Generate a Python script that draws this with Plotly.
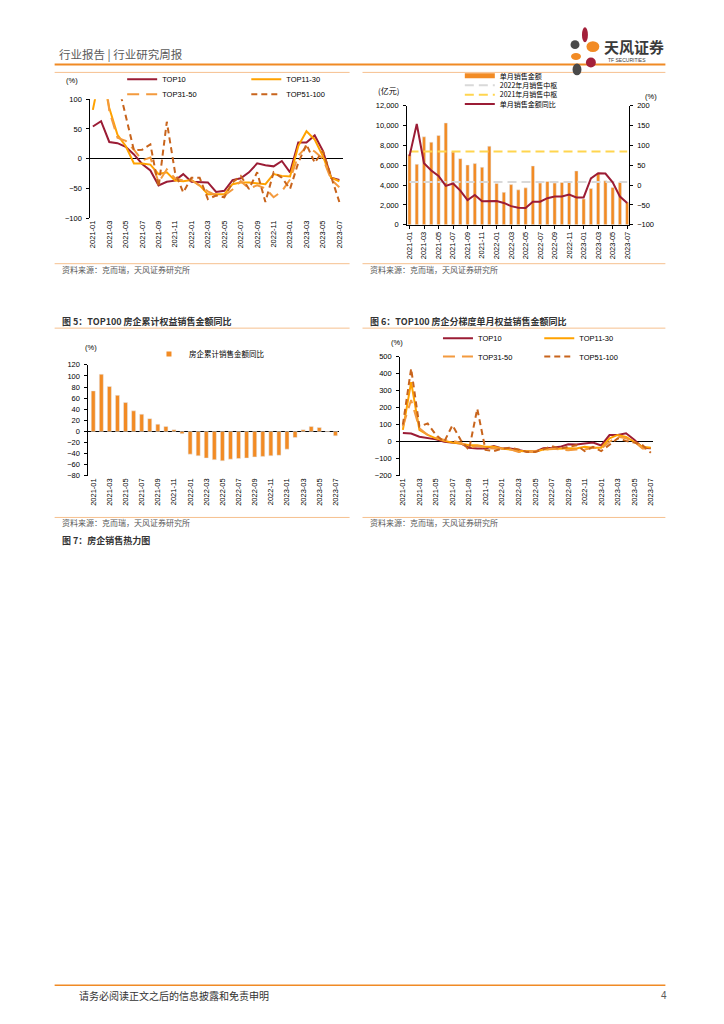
import plotly.graph_objects as go

# ---------------- data ----------------
months = ["2021-01", "2021-02", "2021-03", "2021-04", "2021-05", "2021-06", "2021-07", "2021-08",
          "2021-09", "2021-10", "2021-11", "2021-12", "2022-01", "2022-02", "2022-03", "2022-04",
          "2022-05", "2022-06", "2022-07", "2022-08", "2022-09", "2022-10", "2022-11", "2022-12",
          "2023-01", "2023-02", "2023-03", "2023-04", "2023-05", "2023-06", "2023-07"]
tick_months = ["2021-01", "2021-03", "2021-05", "2021-07", "2021-09", "2021-11", "2022-01", "2022-03",
               "2022-05", "2022-07", "2022-09", "2022-11", "2023-01", "2023-03", "2023-05", "2023-07"]

tiers = ["TOP10", "TOP11-30", "TOP31-50", "TOP51-100"]

# chart 1: single-month YoY by tier (%)
c1_top10 = [54, 63, 28, 26, 20, 7, -9, -20, -45, -39, -37, -26, -39, -40, -40, -56, -54, -36, -33, -23,
            -8, -11, -13, -4, -23, 27, 27, 39, 13, -32, -36]
c1_top11_30 = [82, 150, 85, 40, 21, -8, -8, -10, -26, -23, -37, -38, -36, -45, -60, -60, -60, -43, -40, -40,
               -41, -43, -26, -29, -30, 21, 46, 32, 4, -32, -38]
c1_top31_50 = [110, 200, 80, 35, 30, 15, -3, 2, -40, -18, -33, -37, -36, -45, -55, -62, -62, -52, -38, -50,
               -45, -50, -65, -55, -35, 5, 20, 12, 0, -35, -48]
c1_top51_100 = [150, 200, 160, 130, 72, 14, 15, 24, -48, 62, -23, -57, -32, -32, -68, -62, -65, -40, -29, -51,
                -23, -73, -23, -32, -51, -7, 24, -7, 13, -29, -73]

# chart 2: monthly sales (100m CNY) and YoY (%)
c2_sales = [7100, 6100, 8870, 8330, 9000, 10270, 7330, 6670, 6030, 6170, 5800, 7930, 4170, 3270, 4050, 3520,
            3720, 5930, 4200, 4370, 4200, 4270, 4370, 5430, 2600, 3650, 5200, 4430, 3770, 4270, 2270]
c2_yoy = [73, 154, 55, 37, 23, -2, 4, -14, -38, -25, -41, -40, -40, -45, -53, -57, -58, -42, -42, -33,
          -29, -29, -24, -31, -31, 17, 30, 29, 7, -29, -45]
median_2022 = 4300
median_2021 = 7400

# chart 3: cumulative equity sales YoY (%)
c3_cum = [73, 103, 81, 65, 52, 37, 31, 23, 13, 9, 3, -4, -41, -44, -48, -51, -53, -50, -49, -48,
          -46, -45, -44, -43, -32, -11, 3, 9, 7, -1, -8]

# chart 4: single-month equity sales YoY by tier (%)
c4_top10 = [52, 48, 29, 20, 14, 0, -6, -10, -35, -40, -40, -25, -40, -40, -48, -58, -58, -38, -35, -30,
            -15, -16, -10, -5, -22, 39, 40, 50, 12, -35, -38]
c4_top11_30 = [70, 350, 70, 40, 20, 5, -5, -10, -20, -20, -30, -30, -40, -45, -55, -58, -58, -45, -42, -40,
               -38, -40, -30, -35, -35, 20, 40, 28, 0, -30, -35]
c4_top31_50 = [90, 245, 80, 40, 25, 10, 5, -5, -35, -25, -35, -40, -40, -45, -60, -60, -55, -50, -40, -45,
               -50, -45, -45, -35, -40, 0, 30, 20, 0, -40, -40]
c4_top51_100 = [100, 430, 90, 107, 40, 0, 97, 10, -48, 194, -48, -55, -40, -35, -45, -60, -60, -45, -25, -40,
                -30, -20, -55, -30, -55, -20, 20, 5, -5, -20, -65]

# ---------------- style ----------------
W, H = 724, 1024
CJK = "Noto Sans CJK SC"
LAT = "Liberation Sans"
C_RED = "#9B1C35"
C_YEL = "#FFA200"
C_ORA = "#F39A3E"
C_BRN = "#C8641C"
C_BAR = "#F28B24"
C_LINE = "#F08A24"
C_LIGHT = "#F6C08E"
TXT = "#333333"
GREY = "#595959"


def fx(p):
    return p / W


def fy(p):
    return 1 - p / H


tier_styles = [
    dict(color=C_RED, width=2, dash="solid"),
    dict(color=C_YEL, width=2, dash="solid"),
    dict(color=C_ORA, width=2, dash="12px,7px"),
    dict(color=C_BRN, width=2, dash="6px,4px"),
]

fig = go.Figure()

# chart 1
c1_data = [c1_top10, c1_top11_30, c1_top31_50, c1_top51_100]
c1_legends = ["legend", "legend2", "legend3", "legend4"]
for name, vals, st, lg in zip(tiers, c1_data, tier_styles, c1_legends):
    fig.add_trace(go.Scatter(x=months, y=vals, mode="lines", name=name, line=st,
                             xaxis="x", yaxis="y", legend=lg))

# chart 2
fig.add_trace(go.Bar(x=months, y=c2_sales, marker_color=C_BAR, width=0.45, name="单月销售金额",
                     showlegend=False, xaxis="x2", yaxis="y2"))
fig.add_trace(go.Scatter(x=[None], y=[None], mode="lines", name="单月销售金额",
                         line=dict(color=C_BAR, width=5), xaxis="x2", yaxis="y2", legend="legend5"))
fig.add_trace(go.Scatter(x=months, y=[median_2022] * len(months), mode="lines", name="2022年月销售中枢",
                         line=dict(color="#D9D9D9", width=2, dash="9px,5px"), xaxis="x2", yaxis="y2",
                         legend="legend6"))
fig.add_trace(go.Scatter(x=months, y=[median_2021] * len(months), mode="lines", name="2021年月销售中枢",
                         line=dict(color="#FFD54F", width=2, dash="9px,5px"), xaxis="x2", yaxis="y2",
                         legend="legend7"))
fig.add_trace(go.Scatter(x=months, y=c2_yoy, mode="lines", name="单月销售金额同比",
                         line=dict(color=C_RED, width=2), xaxis="x2", yaxis="y3", legend="legend8"))

# chart 3
fig.add_trace(go.Bar(x=months, y=c3_cum, marker_color=C_BAR, width=0.5, name="房企累计销售金额同比",
                     showlegend=False, xaxis="x3", yaxis="y4"))
fig.add_trace(go.Scatter(x=[None], y=[None], mode="markers", name="房企累计销售金额同比",
                         marker=dict(symbol="square", size=5, color=C_BAR), xaxis="x3", yaxis="y4",
                         legend="legend9"))

# chart 4
c4_data = [c4_top10, c4_top11_30, c4_top31_50, c4_top51_100]
c4_legends = ["legend10", "legend11", "legend12", "legend13"]
for name, vals, st, lg in zip(tiers, c4_data, tier_styles, c4_legends):
    fig.add_trace(go.Scatter(x=months, y=vals, mode="lines", name=name, line=st,
                             xaxis="x4", yaxis="y5", legend=lg))

# ---------------- axes ----------------
tickfont = dict(family=LAT, size=7.5, color="#000000")


def xcat(domain, anchor, rng, line=False):
    return dict(domain=domain, anchor=anchor, type="category", range=rng,
                tickmode="array", tickvals=tick_months, ticktext=tick_months,
                tickangle=-90, tickfont=tickfont, showgrid=False, zeroline=False,
                showline=line, linecolor="#000000", linewidth=1,
                ticks="outside" if line else "", ticklen=3, tickcolor="#000000",
                fixedrange=True)


def ynum(domain, anchor, rng, dtick, zl=True, fmt=None, side="left", overlaying=None):
    d = dict(domain=domain, anchor=anchor, range=rng, dtick=dtick, tickfont=tickfont,
             showgrid=False, zeroline=zl, zerolinecolor="#000000", zerolinewidth=1,
             showline=True, linecolor="#000000", linewidth=1, ticks="outside", ticklen=3,
             tickcolor="#000000", side=side, ticklabelstandoff=3, fixedrange=True)
    if fmt:
        d["tickformat"] = fmt
    if overlaying:
        d["overlaying"] = overlaying
        d.pop("domain")
    return d


lay = dict(
    xaxis=xcat([fx(89), fx(343)], "y", [-0.3, 30.4]),
    yaxis=ynum([fy(216), fy(96)], "x", [-100, 100], 50),
    xaxis2=xcat([fx(408), fx(631)], "y2", [-0.32, 30.2], line=True),
    yaxis2=ynum([fy(222.7), fy(102.7)], "x2", [0, 12000], 2000, zl=False, fmt=","),
    yaxis3=ynum(None, "x2", [-100, 200], 50, zl=False, side="right", overlaying="y2"),
    xaxis3=xcat([fx(87), fx(339)], "y4", [-0.6, 30.4]),
    yaxis4=ynum([fy(476), fy(364)], "x3", [-80, 120], 20),
    xaxis4=xcat([fx(401), fx(656)], "y5", [-0.32, 30.32]),
    yaxis5=ynum([fy(476), fy(355.7)], "x4", [-200, 500], 100),
)


def leg(xp, yp, size=7.5, fam=LAT):
    return dict(x=fx(xp), y=fy(yp), xanchor="left", yanchor="middle", bgcolor="rgba(0,0,0,0)",
                borderwidth=0, font=dict(family=fam, size=size, color="#000000"), itemclick=False,
                itemdoubleclick=False)


legends = {
    "legend": leg(121, 76), "legend2": leg(246, 76), "legend3": leg(121, 91), "legend4": leg(246, 91),
    "legend5": leg(461, 72.5, 7, CJK), "legend6": leg(461, 82, 7, CJK),
    "legend7": leg(461, 91.5, 7, CJK), "legend8": leg(461, 101, 7, CJK),
    "legend9": leg(148, 353, 7.5, CJK),
    "legend10": leg(439, 337.3), "legend11": leg(541, 337.3),
    "legend12": leg(439, 355.7), "legend13": leg(541, 355.7),
}

# ---------------- page decorations ----------------
annotations = []


def txt(text, xp, yp, size, color=TXT, fam=CJK, xanchor="left"):
    annotations.append(dict(text=text, x=fx(xp), y=fy(yp), xref="paper", yref="paper",
                            xanchor=xanchor, yanchor="middle", showarrow=False,
                            font=dict(family=fam, size=size, color=color)))


txt("行业报告 | 行业研究周报", 55, 50, 11.5, GREY)
txt("<b>天风证券</b>", 604, 43, 15, "#3a3a3a")
txt("TF SECURITIES", 608, 56, 5, "#3a3a3a", LAT)
txt("请务必阅读正文之后的信息披露和免责申明", 76, 1000, 10, TXT)
txt("4", 662, 1000, 10, GREY, LAT)

txt("(%)", 62, 77, 7.5, "#000000", LAT)
txt("(亿元)", 377, 87, 8, "#000000")
txt("(%)", 645, 93, 7.5, "#000000", LAT)
txt("(%)", 82, 347, 7.5, "#000000", LAT)
txt("(%)", 390, 341, 7.5, "#000000", LAT)

txt("资料来源：克而瑞，天风证券研究所", 58, 268, 8, GREY)
txt("资料来源：克而瑞，天风证券研究所", 369, 268, 8, GREY)
txt("<b>图 5：TOP100 房企累计权益销售金额同比</b>", 58, 320, 9, TXT)
txt("<b>图 6：TOP100 房企分梯度单月权益销售金额同比</b>", 369, 320, 9, TXT)
txt("资料来源：克而瑞，天风证券研究所", 58, 523, 8, GREY)
txt("资料来源：克而瑞，天风证券研究所", 369, 523, 8, GREY)
txt("<b>图 7：房企销售热力图</b>", 58, 541, 9, TXT)

shapes = []


def hline(x0, x1, yp, color, width):
    shapes.append(dict(type="line", xref="paper", yref="paper", x0=fx(x0), x1=fx(x1),
                       y0=fy(yp), y1=fy(yp), line=dict(color=color, width=width)))


hline(53, 668, 61, C_LINE, 2)
hline(53, 668, 990, C_LINE, 1.5)
hline(53, 350, 69, C_LIGHT, 1)
hline(363, 668, 69, C_LIGHT, 1)
hline(53, 350, 262, C_LIGHT, 1)
hline(363, 668, 262, C_LIGHT, 1)
hline(53, 350, 327, C_LIGHT, 1)
hline(363, 668, 327, C_LIGHT, 1)
hline(53, 350, 518, C_LIGHT, 1)
hline(363, 668, 518, C_LIGHT, 1)


def blob(cx, cy, w, h, color):
    shapes.append(dict(type="circle", xref="paper", yref="paper", x0=fx(cx - w / 2), x1=fx(cx + w / 2),
                       y0=fy(cy + h / 2), y1=fy(cy - h / 2), fillcolor=color, line=dict(width=0)))


# logo petals
blob(587, 31, 6, 15, "#A3203A")
blob(595, 43, 13, 11, "#F28B24")
blob(577, 41, 9, 9, "#4A4A4A")
blob(578, 53, 10, 7, "#F28B24")
blob(593, 59, 10, 10, "#A3203A")
blob(579, 66, 9, 12, "#4A4A4A")

fig.update_layout(
    width=W, height=H, margin=dict(l=0, r=0, t=0, b=0),
    paper_bgcolor="white", plot_bgcolor="rgba(0,0,0,0)",
    bargap=0.5, showlegend=True, hovermode=False,
    annotations=annotations, shapes=shapes,
    **lay, **legends,
)

fig.write_html("out.html", config={"displayModeBar": False},
               post_script="document.body.style.margin='0';document.body.style.overflow='hidden';")
